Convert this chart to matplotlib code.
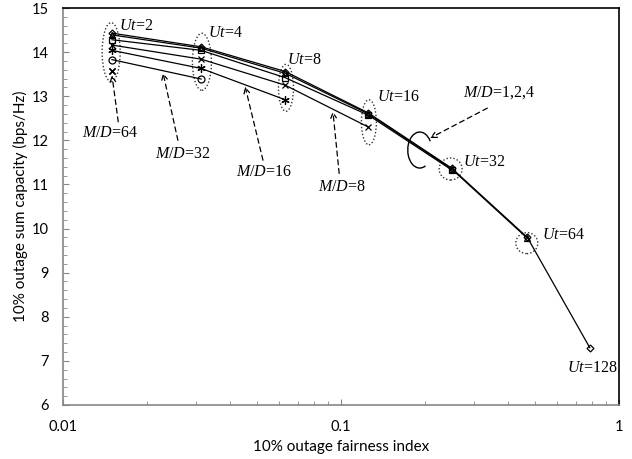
import matplotlib
matplotlib.use("Agg")
import matplotlib.pyplot as plt
from matplotlib.patches import Ellipse, Arc
from matplotlib.transforms import ScaledTranslation

plt.rcParams['mathtext.fontset'] = 'custom'
plt.rcParams['mathtext.it'] = 'Liberation Serif:italic'
plt.rcParams['mathtext.rm'] = 'Liberation Serif'

# ---- data ----
ut_values = [2, 4, 8, 16, 32, 64, 128]
fairness = [0.0150, 0.0314, 0.0630, 0.1255, 0.250, 0.468, 0.785]
md_labels = ["1", "2", "4", "8", "16", "32", "64"]
cap_md1 = [14.43, 14.12, 13.56, 12.62, 11.37, 9.80, 7.30]
cap_md2 = [14.39, 14.09, 13.52, 12.60, 11.35, 9.78]
cap_md4 = [14.28, 14.04, 13.42, 12.57, 11.33]
cap_md8 = [14.16, 13.84, 13.25, 12.30]
cap_md16 = [14.04, 13.63, 12.92]
cap_md32 = [13.83, 13.39]
cap_md64 = [13.57]
series = [cap_md1, cap_md2, cap_md4, cap_md8, cap_md16, cap_md32, cap_md64]
markers = ['D', '^', 's', 'x', (6, 2, 0), 'o', (4, 2, 45)]
msizes = [3.5, 4.5, 4.5, 5, 6, 5, 6]

fig = plt.figure(figsize=(6.32, 4.59), dpi=100)
ax = fig.add_axes([63/632, 1-405/459, (619-63)/632, (405-8)/459])

for vals, mk, ms in zip(series, markers, msizes):
    ax.plot(fairness[:len(vals)], vals, color='black', lw=0.9, marker=mk,
            markersize=ms, markerfacecolor='none', markeredgecolor='black',
            markeredgewidth=0.9)

ax.set_xscale('log')
ax.set_xlim(0.01, 1)
ax.set_ylim(6, 15)
ax.set_yticks(range(6, 16))
ax.set_yticks([6 + 0.2*i for i in range(46)], minor=True)
ax.set_xticks([0.01, 0.1, 1])
ax.set_xticklabels(['0.01', '0.1', '1'])
for s in ['left', 'bottom']:
    ax.spines[s].set_color('#868686')
    ax.spines[s].set_linewidth(1.2)
for s in ['top', 'right']:
    ax.spines[s].set_color('black')
    ax.spines[s].set_linewidth(1.2)
ax.tick_params(which='both', direction='in', color='#868686', labelsize=10.5)
ax.tick_params(which='major', length=4)
ax.tick_params(which='minor', length=3)
ax.tick_params(axis='x', pad=11)
ax.tick_params(axis='y', pad=10)
for lab in ax.get_xticklabels() + ax.get_yticklabels():
    lab.set_fontfamily('Lato')
ax.set_xlabel('10% outage fairness index', fontsize=11, family='Lato', labelpad=4)
ax.set_ylabel('10% outage sum capacity (bps/Hz)', fontsize=11, family='Lato', labelpad=3)

def px_trans(x, y):
    return fig.dpi_scale_trans + ScaledTranslation(x, y, ax.transData)

# dotted ellipses around Ut groups (center data, size px)
ells = [(0.0149, 14.00, 18, 59), (0.0316, 13.78, 19, 57), (0.0634, 13.19, 15, 47),
        (0.126, 12.41, 15, 45), (0.248, 11.35, 23, 22), (0.466, 9.67, 22, 21)]
for cx, cy, w, h in ells:
    ax.add_patch(Ellipse((0, 0), w/100, h/100, transform=px_trans(cx, cy),
                         fill=False, ls=(0, (1, 1.5)), lw=1.0, ec='#333333'))

fs = 11.5
tfam = 'Liberation Serif'
ut_text = [(0.0159, 14.60, 'left'), (0.0332, 14.43, 'left'), (0.0641, 13.82, 'left'),
           (0.135, 12.98, 'left'), (0.275, 11.51, 'left'), (0.528, 9.85, 'left'),
           (0.80, 6.85, 'center')]
for (tx, ty, ha), u in zip(ut_text, ut_values):
    ax.text(tx, ty, r'$\mathit{Ut}$=%d' % u, fontsize=fs, family=tfam,
            ha=ha, va='center')

# M/D labels with dashed arrows
md_ann = [("64", (0.0148, 12.17), (0.0158, 12.42), (0.0150, 13.48)),
          ("32", (0.0270, 11.70), (0.0259, 12.00), (0.0229, 13.53)),
          ("16", (0.0530, 11.28), (0.0524, 11.55), (0.0452, 13.22)),
          ("8", (0.101, 10.94), (0.0985, 11.25), (0.0935, 12.66))]
for lab, tpos, tail, head in md_ann:
    ax.text(tpos[0], tpos[1], r'$\mathit{M/D}$=' + lab, fontsize=fs, family=tfam,
            ha='center', va='center')
    ax.annotate('', xy=head, xytext=tail,
                arrowprops=dict(arrowstyle='->', ls=(0, (4, 3)), lw=0.9,
                                color='black', shrinkA=0, shrinkB=0))

ax.text(0.37, 13.07, r'$\mathit{M/D}$=1,2,4', fontsize=fs, family=tfam,
        ha='center', va='center')
ax.annotate('', xy=(0.209, 12.05), xytext=(0.336, 12.73),
            arrowprops=dict(arrowstyle='->', ls=(0, (4, 3)), lw=0.9,
                            color='black', shrinkA=0, shrinkB=0))
ax.add_patch(Arc((0, 0), 24/100, 36/100, theta1=40, theta2=290,
                 transform=px_trans(0.192, 11.78), lw=1.0, color='black'))

fig.savefig('out.png', dpi=100)
